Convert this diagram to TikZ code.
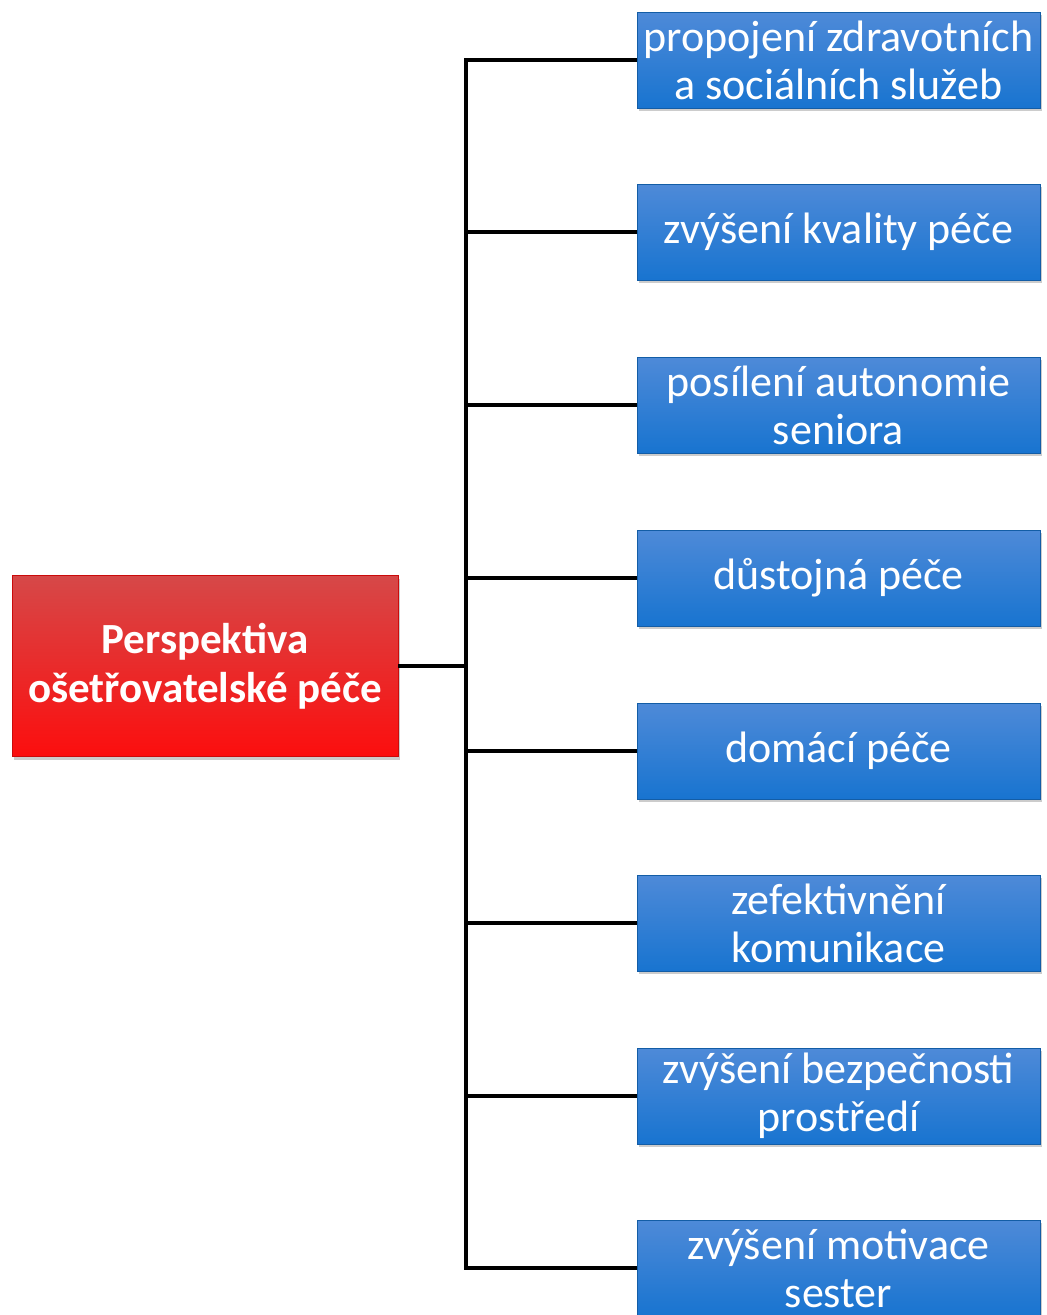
\documentclass[tikz,border=0pt]{standalone}
\usepackage{fontspec}
\setmainfont{Carlito}
\usetikzlibrary{shadows}
\definecolor{bluetop}{RGB}{78,138,216}
\definecolor{bluebot}{RGB}{24,116,208}
\definecolor{redtop}{RGB}{214,72,72}
\definecolor{redbot}{RGB}{252,14,14}
\tikzset{
  leaf/.style={minimum width=403pt, minimum height=96pt, inner sep=0pt,
    top color=bluetop, bottom color=bluebot, draw=bluebot!80!black, line width=0.6pt,
    drop shadow={shadow xshift=1.5pt, shadow yshift=-3pt, opacity=0.4},
    text=white, align=center, font=\fontsize{44}{48}\selectfont},
  root/.style={minimum width=386pt, minimum height=181pt, inner sep=0pt,
    top color=redtop, bottom color=redbot, draw=redbot!80!black, line width=0.6pt,
    drop shadow={shadow xshift=1.5pt, shadow yshift=-3pt, opacity=0.4},
    text=white, align=center, font=\bfseries\fontsize{43}{49}\selectfont},
  link/.style={line width=4pt, black}
}
\begin{document}
\begin{tikzpicture}[x=1pt,y=-1pt]
\useasboundingbox[fill=white] (0,0) rectangle (1047,1315);
% branch spine
\coordinate (top) at (466,60);
\coordinate (bot) at (466,1268);
\coordinate (mid) at (466,666);
\draw[link, line cap=rect] (top) -- (bot);
% children
\node[leaf] (c1) at (838.5,60) {propojení zdravotních\\a sociálních služeb};
\node[leaf] (c2) at (838.5,232) {zvýšení kvality péče};
\node[leaf] (c3) at (838.5,405) {posílení autonomie\\seniora};
\node[leaf] (c4) at (838.5,578) {důstojná péče};
\node[leaf] (c5) at (838.5,751) {domácí péče};
\node[leaf] (c6) at (838.5,923) {zefektivnění\\komunikace};
\node[leaf] (c7) at (838.5,1096) {zvýšení bezpečnosti\\prostředí};
\node[leaf] (c8) at (838.5,1268) {zvýšení motivace\\sester};
% root
\node[root] (r) at (205,666) {Perspektiva\\ošetřovatelské péče};
\draw[link] (r.east) -- (mid);
\foreach \i in {1,...,8} {
  \draw[link] (c\i.west -| top) -- (c\i.west);
}
\end{tikzpicture}
\end{document}
